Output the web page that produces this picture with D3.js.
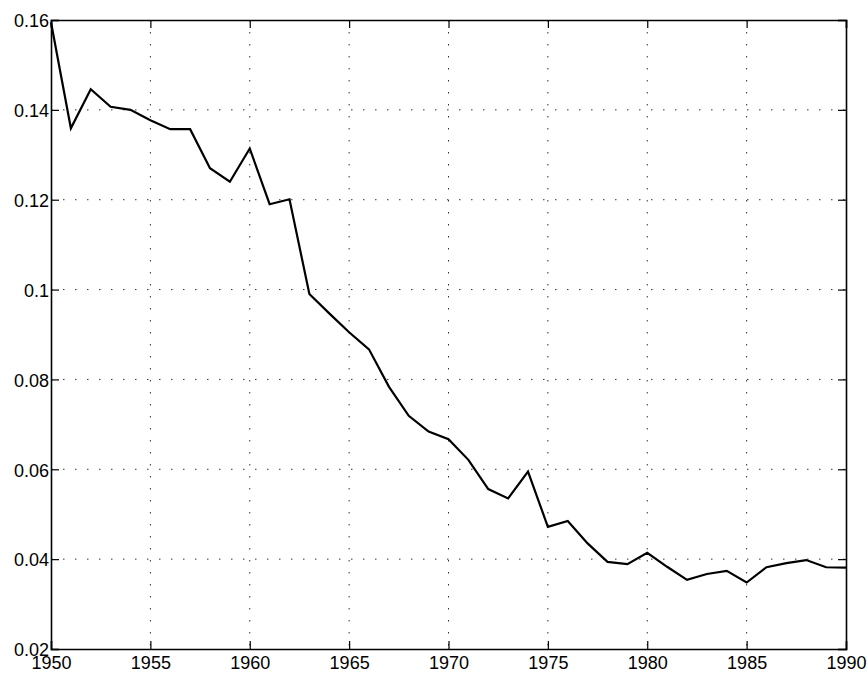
<!DOCTYPE html>
<html>
<head>
<meta charset="utf-8">
<script src="https://cdn.jsdelivr.net/npm/d3@7"></script>
<style>
  body { margin: 0; background: #fff; }
  svg { display: block; }
</style>
</head>
<body>
<div id="chart-area"></div>
<script>
// data
var years = [1950, 1951, 1952, 1953, 1954, 1955, 1956, 1957, 1958, 1959,
             1960, 1961, 1962, 1963, 1964, 1965, 1966, 1967, 1968, 1969,
             1970, 1971, 1972, 1973, 1974, 1975, 1976, 1977, 1978, 1979,
             1980, 1981, 1982, 1983, 1984, 1985, 1986, 1987, 1988, 1989, 1990];
var values = [0.1595, 0.1359, 0.1446, 0.1407, 0.1400, 0.1377, 0.1357, 0.1357, 0.1270, 0.1240,
              0.1314, 0.1190, 0.1201, 0.0990, 0.0947, 0.0905, 0.0867, 0.0784, 0.0719, 0.0684,
              0.0667, 0.0621, 0.0556, 0.0535, 0.0595, 0.0472, 0.0485, 0.0435, 0.0394, 0.0389,
              0.0414, 0.0383, 0.0354, 0.0367, 0.0374, 0.0348, 0.0382, 0.0391, 0.0398, 0.0382, 0.0381];
var xTicks = [1950, 1955, 1960, 1965, 1970, 1975, 1980, 1985, 1990];
var yTicks = [0.02, 0.04, 0.06, 0.08, 0.1, 0.12, 0.14, 0.16];

var margin = {top: 20, right: 22, bottom: 25, left: 51};
var width = 868 - margin.left - margin.right;
var height = 674 - margin.top - margin.bottom;

var svg = d3.select("#chart-area").append("svg").attr("width", 868).attr("height", 674);
var g = svg.append("g").attr("transform", "translate(" + margin.left + ", " + margin.top + ")");

var x = d3.scaleLinear().domain([1950, 1990]).range([0, width]);
var y = d3.scaleLinear().domain([0.02, 0.16]).range([height, 0]);

// dotted grid
g.append("g").attr("class", "grid").selectAll("line.vx").data(xTicks.slice(1, -1)).enter().append("line")
  .attr("x1", (d) => { return x(d); }).attr("x2", (d) => { return x(d); })
  .attr("y1", 0).attr("y2", height)
  .attr("stroke", "#333").attr("stroke-width", 1).attr("stroke-dasharray", "1.5,10.5");
g.select(".grid").selectAll("line.hy").data(yTicks.slice(1, -1)).enter().append("line")
  .attr("x1", 0).attr("x2", width)
  .attr("y1", (d) => { return y(d); }).attr("y2", (d) => { return y(d); })
  .attr("stroke", "#333").attr("stroke-width", 1).attr("stroke-dasharray", "1.5,10.5");

var fmt = (d) => { return String(+d.toFixed(2)); };

var bottomAxis = d3.axisBottom(x).tickValues(xTicks).tickFormat(d3.format("d")).tickSize(-8).tickPadding(7);
g.append("g").attr("class", "x axis").attr("transform", "translate(0, " + height + ")").call(bottomAxis);

var leftAxis = d3.axisLeft(y).tickValues(yTicks).tickFormat(fmt).tickSize(-8).tickPadding(2);
g.append("g").attr("class", "y axis").call(leftAxis);

var topAxis = d3.axisTop(x).tickValues(xTicks).tickFormat("").tickSize(-8);
g.append("g").attr("class", "x2 axis").call(topAxis);

var rightAxis = d3.axisRight(y).tickValues(yTicks).tickFormat("").tickSize(-8);
g.append("g").attr("class", "y2 axis").attr("transform", "translate(" + width + ", 0)").call(rightAxis);

g.selectAll(".axis .domain").attr("stroke", "#000").attr("stroke-width", 1.6);
g.selectAll(".axis .tick line").attr("stroke", "#000").attr("stroke-width", 1.2);
g.selectAll(".axis text").attr("font-family", "'Liberation Sans', Arial, sans-serif")
  .attr("font-size", "18px").attr("fill", "#000");
g.selectAll(".y.axis text").attr("dy", "0.38em");

// the series
var line = d3.line().x((d, i) => { return x(years[i]); }).y((d) => { return y(d); });
g.append("path").datum(values).attr("d", line)
  .attr("fill", "none").attr("stroke", "#000").attr("stroke-width", 2.2).attr("stroke-linejoin", "miter");
</script>
</body>
</html>
